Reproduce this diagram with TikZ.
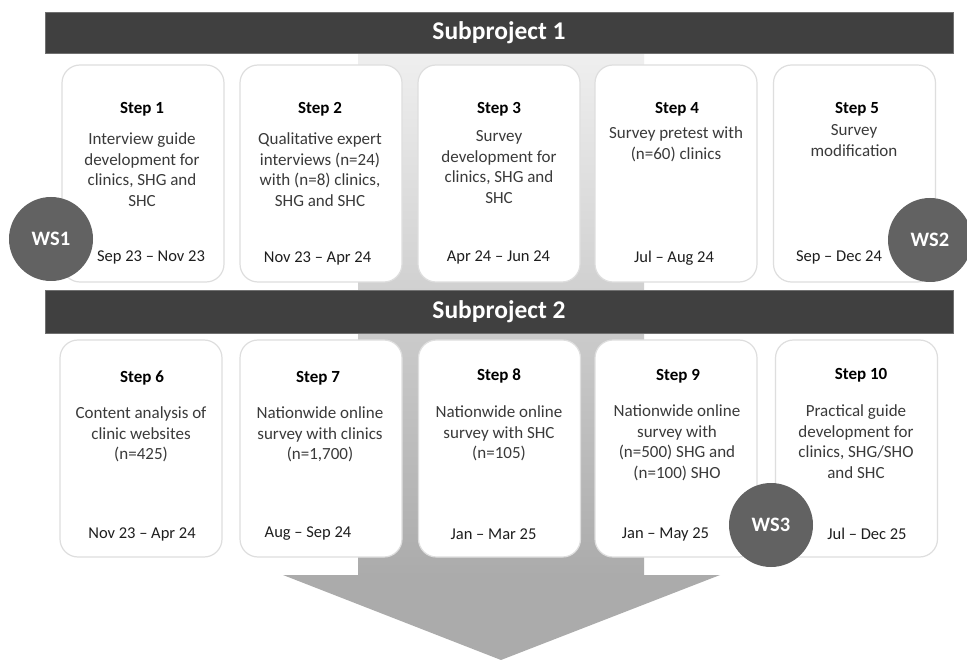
\documentclass[tikz,border=0pt]{standalone}
\usepackage{fontspec}
\setmainfont{Carlito}
\definecolor{barc}{HTML}{404040}
\definecolor{barline}{HTML}{707070}
\definecolor{wsfill}{HTML}{626262}
\definecolor{boxline}{HTML}{DEDEDE}
\definecolor{bodytext}{HTML}{3A3A3A}
\definecolor{datec}{HTML}{1E1E1E}
\definecolor{shtop}{HTML}{EFEFEF}
\definecolor{shbot}{HTML}{ABABAB}
\definecolor{headfill}{HTML}{ABABAB}
\begin{document}
\begin{tikzpicture}[x=1pt,y=-1pt,
  stepbox/.style={draw=boxline, line width=1.2pt, fill=white, rounded corners=18pt,
    minimum width=162pt, minimum height=217pt, inner sep=0pt},
  barnode/.style={fill=barc, draw=barline, line width=0.8pt, minimum width=908pt,
    text=white, font=\bfseries\fontsize{25.5}{29}\selectfont, inner sep=0pt},
  ttl/.style={font=\bfseries\fontsize{17}{19}\selectfont, text=black, inner sep=0pt},
  body/.style={font=\fontsize{17}{20.5}\selectfont, text=bodytext, align=center,
    anchor=north, inner sep=0pt},
  datetxt/.style={font=\fontsize{16.5}{19}\selectfont, text=datec, inner sep=0pt},
  wsc/.style={circle, fill=wsfill, minimum size=84pt, inner sep=0pt, text=white,
    font=\bfseries\fontsize{20.5}{24}\selectfont}
]
\useasboundingbox[fill=white] (0,0) rectangle (967,660);
% big arrow
\shade[top color=shtop, bottom color=shbot] (358,53) rectangle (644,576);
\fill[headfill] (283,575) -- (720,575) -- (501,660) -- cycle;
% bars
\node[barnode, minimum height=41pt] (sp1) at (499,32.5) {Subproject 1};
\node[barnode, minimum height=43pt] (sp2) at (499,311.5) {Subproject 2};
% row 1 boxes
\node[stepbox] (b1) at (143,173.5) {};
\node[stepbox] (b2) at (321,173.5) {};
\node[stepbox] (b3) at (499,173.5) {};
\node[stepbox] (b4) at (676,173.5) {};
\node[stepbox] (b5) at (854.5,173.5) {};
% row 2 boxes
\node[stepbox] (b6) at (141,448.5) {};
\node[stepbox] (b7) at (321,448.5) {};
\node[stepbox] (b8) at (499.5,448.5) {};
\node[stepbox] (b9) at (676,448.5) {};
\node[stepbox] (b10) at (856.5,448.5) {};
% row 1 text
\node[ttl] (t1) at (142,109) {Step 1};
\node[ttl] (t2) at (320,109) {Step 2};
\node[ttl] (t3) at (499,109) {Step 3};
\node[ttl] (t4) at (677,109) {Step 4};
\node[ttl] (t5) at (857,109) {Step 5};
\node[body] (d1) at (142,132.5) {Interview guide\\development for\\clinics, SHG and\\SHC};
\node[body] (d2) at (320,132.5) {Qualitative expert\\interviews (n=24)\\with (n=8) clinics,\\SHG and SHC};
\node[body] (d3) at (499,130.5) {Survey\\development for\\clinics, SHG and\\SHC};
\node[body] (d4) at (676,126.5) {Survey pretest with\\(n=60) clinics};
\node[body] (d5) at (854,124.5) {Survey\\modification};
\node[datetxt] (m1) at (151,257) {Sep 23 -- Nov 23};
\node[datetxt] (m2) at (317.5,258) {Nov 23 -- Apr 24};
\node[datetxt] (m3) at (498.5,257) {Apr 24 -- Jun 24};
\node[datetxt] (m4) at (674,258) {Jul -- Aug 24};
\node[datetxt] (m5) at (839,257) {Sep -- Dec 24};
% row 2 text
\node[ttl] (t6) at (142,378) {Step 6};
\node[ttl] (t7) at (318,378) {Step 7};
\node[ttl] (t8) at (499,376) {Step 8};
\node[ttl] (t9) at (678,376) {Step 9};
\node[ttl] (t10) at (861,375) {Step 10};
\node[body] (d6) at (141,406.5) {Content analysis of\\clinic websites\\(n=425)};
\node[body] (d7) at (320,406.5) {Nationwide online\\survey with clinics\\(n=1,700)};
\node[body] (d8) at (499,405.5) {Nationwide online\\survey with SHC\\(n=105)};
\node[body] (d9) at (677,404.5) {Nationwide online\\survey with\\(n=500) SHG and\\(n=100) SHO};
\node[body] (d10) at (856,404.5) {Practical guide\\development for\\clinics, SHG/SHO\\and SHC};
\node[datetxt] (m6) at (142,534) {Nov 23 -- Apr 24};
\node[datetxt] (m7) at (308,534) {Aug -- Sep 24};
\node[datetxt] (m8) at (493.5,534) {Jan -- Mar 25};
\node[datetxt] (m9) at (665.5,534) {Jan -- May 25};
\node[datetxt] (m10) at (867,534) {Jul -- Dec 25};
% workshop circles
\node[wsc] (ws1) at (51,239) {WS1};
\node[wsc] (ws2) at (930,240) {WS2};
\node[wsc] (ws3) at (771,525) {WS3};
\end{tikzpicture}
\end{document}
